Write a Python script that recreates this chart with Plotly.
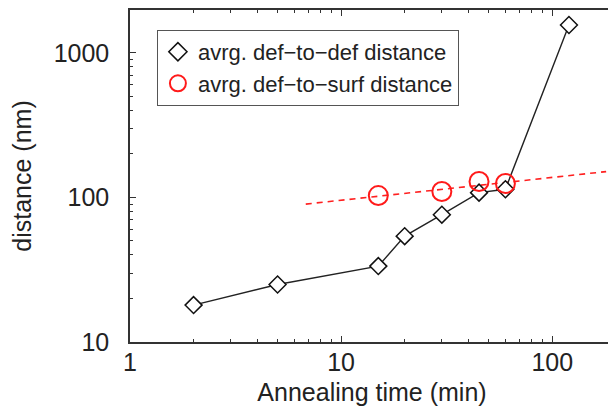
import plotly.graph_objects as go

# Data
time_def = [2, 5, 15, 20, 30, 45, 60, 120]
dist_def = [18, 25, 33.5, 54, 76, 108, 114, 1560]

time_surf = [15, 30, 45, 60]
dist_surf = [103, 110, 129, 125]

fit_x = [6.8, 180]
fit_y = [90, 151]

x_major = [1, 10, 100]
x_minor = [2, 3, 4, 5, 6, 7, 8, 9, 20, 30, 40, 50, 60, 70, 80, 90, 200]
y_major = [10, 100, 1000]
y_minor = [20, 30, 40, 50, 60, 70, 80, 90, 200, 300, 400, 500, 600, 700, 800, 900, 2000]

FONT = "Liberation Sans, Arial, sans-serif"
AX = "#333333"

fig = go.Figure()

fig.add_trace(go.Scatter(x=fit_x, y=fit_y, mode="lines",
                         line=dict(color="#ff2020", width=1.6, dash="6px,5px"),
                         showlegend=False, hoverinfo="skip"))
fig.add_trace(go.Scatter(x=time_def, y=dist_def, mode="lines+markers",
                         line=dict(color="#222222", width=1.4),
                         marker=dict(symbol="diamond", size=13, color="white",
                                     line=dict(color="#111111", width=1.5)),
                         showlegend=False))
fig.add_trace(go.Scatter(x=time_surf, y=dist_surf, mode="markers",
                         marker=dict(symbol="circle-open", size=19, color="#ff1a1a",
                                     line=dict(color="#ff1a1a", width=2)),
                         showlegend=False))
# legend entries
fig.add_trace(go.Scatter(x=[None], y=[None], mode="markers",
                         name="avrg. def\u2212to\u2212def distance",
                         marker=dict(symbol="diamond", size=14, color="white",
                                     line=dict(color="#111111", width=1.5))))
fig.add_trace(go.Scatter(x=[None], y=[None], mode="markers",
                         name="avrg. def\u2212to\u2212surf distance",
                         marker=dict(symbol="circle-open", size=19, color="#ff1a1a",
                                     line=dict(color="#ff1a1a", width=2))))

axis_common = dict(showline=True, linecolor=AX, linewidth=1.5, mirror="allticks",
                   ticks="inside", tickcolor=AX, tickwidth=1.2, ticklen=6,
                   showgrid=False, zeroline=False,
                   tickfont=dict(family=FONT, size=25, color="#222222"))

fig.update_xaxes(type="log", range=[0, 2.2925], tickmode="array", tickvals=x_major,
                 ticktext=[str(v) for v in x_major],
                 minor=dict(tickmode="array", tickvals=x_minor, ticks="inside",
                            ticklen=3, tickcolor=AX, tickwidth=1.2, showgrid=False),
                 title=dict(text="Annealing time (min)", font=dict(family=FONT, size=25, color="#222222"),
                            standoff=9),
                 ticklabelstandoff=-3,
                 **axis_common)
fig.update_yaxes(type="log", range=[1, 3.297], tickmode="array", tickvals=y_major,
                 ticktext=[str(v) for v in y_major],
                 minor=dict(tickmode="array", tickvals=y_minor, ticks="inside",
                            ticklen=3, tickcolor=AX, tickwidth=1.2, showgrid=False),
                 title=dict(text="distance (nm)", font=dict(family=FONT, size=25, color="#222222"),
                            standoff=25),
                 ticklabelstandoff=14,
                 **axis_common)

# page body has an 8px margin, so the figure is offset by (8, 8) in the window
fig.update_layout(
    width=608, height=406,
    margin=dict(l=122, r=0, t=1, b=72),
    plot_bgcolor="white", paper_bgcolor="white",
    font=dict(family=FONT, color="#222222"),
    legend=dict(x=0.0556, y=0.94, xanchor="left", yanchor="top",
                bordercolor="#555555", borderwidth=1, bgcolor="white",
                font=dict(family=FONT, size=22, color="#222222"),
                itemwidth=30, tracegroupgap=0),
)

fig.write_html("out.html")
